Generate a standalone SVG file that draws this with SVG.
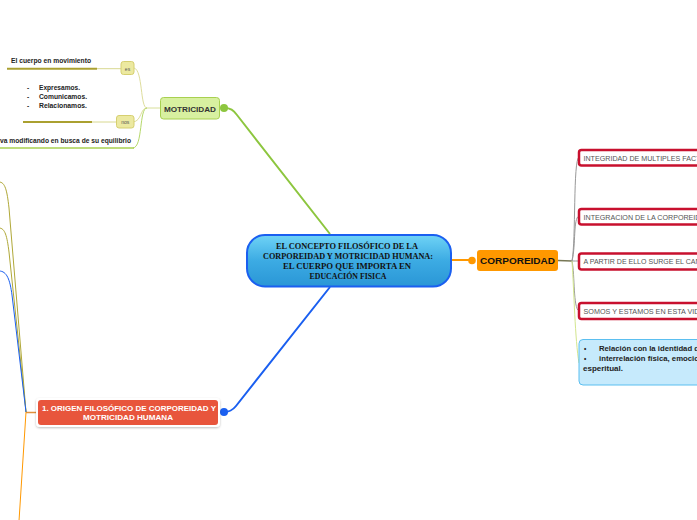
<svg xmlns="http://www.w3.org/2000/svg" width="697" height="520" viewBox="0 0 697 520">
<defs>
<linearGradient id="gc" x1="0" y1="0" x2="0" y2="1">
<stop offset="0" stop-color="#6fd3f6"/>
<stop offset="0.5" stop-color="#3cabe3"/>
<stop offset="1" stop-color="#2a96d6"/>
</linearGradient>
<filter id="sh" x="-10%" y="-20%" width="120%" height="150%">
<feDropShadow dx="0" dy="1" stdDeviation="1" flood-color="#000" flood-opacity="0.25"/>
</filter>
</defs>
<style>
.s{font-family:"Liberation Sans",Arial,sans-serif;font-weight:bold;font-size:6.5px;fill:#222}
.r{font-family:"Liberation Sans",Arial,sans-serif;font-size:7px;fill:#555}
.c{font-family:"Liberation Serif","Times New Roman",serif;font-weight:bold;font-size:8px;fill:#111}
.red{fill:#fff;stroke:#c8102e;stroke-width:2.5}
.ln{fill:none}
</style>
<rect width="697" height="520" fill="#fff"/>
<g id="connectors" class="ln">
<path d="M224,108 C231,108 233,110 237,115 L330,234" stroke="#8dc63f" stroke-width="2"/>
<path d="M330,287 L236,406 C232,411 229,412 224,412" stroke="#1a5ff0" stroke-width="2"/>
<path d="M451,260 L472,260" stroke="#ff9800" stroke-width="2"/>
<path d="M558,260.5 L572,261" stroke="#777755" stroke-width="1.5"/>
<path d="M572,261 C576,240 573,160 579,157" stroke="#999" stroke-width="1"/>
<path d="M572,261 C576,245 573,218 579,216" stroke="#999" stroke-width="1"/>
<path d="M572,261 C575,261 576,261 579,261" stroke="#999" stroke-width="1"/>
<path d="M572,261 C575,275 573,308 579,311" stroke="#999" stroke-width="1"/>
<path d="M572,261 C574,290 575,340 579,363" stroke="#d3e68e" stroke-width="1"/>
<path d="M160,108 L147,108" stroke="#d8df9a" stroke-width="1"/>
<path d="M147,108 C140,108 143,70 134,68" stroke="#dedd9c" stroke-width="1"/>
<path d="M147,108 C140,108 142,121 133,122" stroke="#dedd9c" stroke-width="1"/>
<path d="M147,108 C139,108 143,147 133,148" stroke="#b5d86a" stroke-width="1"/>
<path d="M7,68.7 L97,68.7" stroke="#aaa030" stroke-width="2"/>
<path d="M97,68.7 L121,68.7" stroke="#d8d890" stroke-width="1"/>
<path d="M23,122 L92,122" stroke="#aaa030" stroke-width="2"/>
<path d="M92,122 L117,122" stroke="#d8d890" stroke-width="1"/>
<path d="M0,148 L134,148" stroke="#a8d050" stroke-width="1.5"/>
<path d="M37,412.5 L26,412.5" stroke="#e0903c" stroke-width="1.5"/>
<path d="M-1,182 C5,182 7,190 9,208 L26,412" stroke="#b0a838" stroke-width="1"/>
<path d="M-1,228 C5,228 7,236 9,252 L26,412" stroke="#b0a838" stroke-width="1"/>
<path d="M-1,271 C7,271 10,280 12,295 L26,412" stroke="#1a5ff0" stroke-width="1"/>
<path d="M26,412 L19,521" stroke="#ff9800" stroke-width="1"/>
<circle cx="224" cy="108" r="4" fill="#8dc63f"/>
<circle cx="224" cy="412" r="4" fill="#1a5ff0"/>
<circle cx="472" cy="260.5" r="3.8" fill="#ff9800"/>
</g>
<g id="center">
<rect x="247" y="235" width="204" height="51.5" rx="18" fill="url(#gc)" stroke="#1a5ff0" stroke-width="2"/>
<text class="c" x="347" y="248.5" text-anchor="middle" textLength="142" lengthAdjust="spacingAndGlyphs">EL CONCEPTO FILOSÓFICO DE LA</text>
<text class="c" x="348" y="258.5" text-anchor="middle" textLength="170" lengthAdjust="spacingAndGlyphs">CORPOREIDAD Y MOTRICIDAD HUMANA:</text>
<text class="c" x="347" y="268.5" text-anchor="middle" textLength="128" lengthAdjust="spacingAndGlyphs">EL CUERPO QUE IMPORTA EN</text>
<text class="c" x="348" y="279" text-anchor="middle" textLength="77" lengthAdjust="spacingAndGlyphs">EDUCACIÓN FISICA</text>
</g>
<g id="motricidad">
<rect x="160.5" y="97.5" width="59" height="21.5" rx="3" fill="#d8f0a0" stroke="#a8d050" stroke-width="1"/>
<text x="190" y="111.5" text-anchor="middle" font-family="Liberation Sans,Arial,sans-serif" font-weight="bold" font-size="8" fill="#333" textLength="52" lengthAdjust="spacingAndGlyphs">MOTRICIDAD</text>
</g>
<g id="es">
<rect x="121" y="61.5" width="13" height="13" rx="2.5" fill="#ece9a0" stroke="#d6cf70" stroke-width="1"/>
<text x="127.5" y="70.5" text-anchor="middle" font-family="Liberation Sans,Arial,sans-serif" font-size="5" fill="#555">es</text>
</g>
<g id="nos">
<rect x="116.5" y="115.5" width="17.5" height="12.5" rx="2.5" fill="#ece9a0" stroke="#d6cf70" stroke-width="1"/>
<text x="125.3" y="124" text-anchor="middle" font-family="Liberation Sans,Arial,sans-serif" font-size="5" fill="#555">nos</text>
</g>
<g id="cuerpo-movimiento">
<text class="s" x="11" y="63" textLength="80" lengthAdjust="spacingAndGlyphs">El cuerpo en movimiento</text>
</g>
<g id="expresamos">
<text class="s" x="27" y="89.5">-</text>
<text class="s" x="39" y="89.5" textLength="41" lengthAdjust="spacingAndGlyphs">Expresamos.</text>
<text class="s" x="27" y="98.5">-</text>
<text class="s" x="39" y="98.5" textLength="48" lengthAdjust="spacingAndGlyphs">Comunicamos.</text>
<text class="s" x="27" y="107.5">-</text>
<text class="s" x="39" y="107.5" textLength="48" lengthAdjust="spacingAndGlyphs">Relacionamos.</text>
</g>
<g id="equilibrio">
<text class="s" x="0" y="143" textLength="131" lengthAdjust="spacingAndGlyphs">va modificando en busca de su equilibrio</text>
</g>
<g id="origen">
<rect x="36" y="398" width="184" height="29" rx="4" fill="#fff" filter="url(#sh)"/>
<rect x="38" y="400" width="180" height="25" rx="3" fill="#e8553c"/>
<text x="129" y="410.5" text-anchor="middle" font-family="Liberation Sans,Arial,sans-serif" font-weight="bold" font-size="6.8" fill="#fff" textLength="174" lengthAdjust="spacingAndGlyphs">1. ORIGEN FILOSÓFICO DE CORPOREIDAD Y</text>
<text x="128" y="419.5" text-anchor="middle" font-family="Liberation Sans,Arial,sans-serif" font-weight="bold" font-size="6.8" fill="#fff" textLength="90" lengthAdjust="spacingAndGlyphs">MOTRICIDAD HUMANA</text>
</g>
<g id="corporeidad">
<rect x="477" y="250" width="81" height="21" rx="3" fill="#ff9800"/>
<text x="517.5" y="264" text-anchor="middle" font-family="Liberation Sans,Arial,sans-serif" font-weight="bold" font-size="9" fill="#111" textLength="75" lengthAdjust="spacingAndGlyphs">CORPOREIDAD</text>
</g>
<g id="integridad">
<rect class="red" x="579" y="150" width="130" height="15.5" rx="2.5"/>
<text class="r" x="583.5" y="160.5" textLength="117" lengthAdjust="spacingAndGlyphs">INTEGRIDAD DE MULTIPLES FACT</text>
</g>
<g id="integracion">
<rect class="red" x="579" y="209" width="130" height="15.5" rx="2.5"/>
<text class="r" x="583.5" y="219.5" textLength="117" lengthAdjust="spacingAndGlyphs">INTEGRACION DE LA CORPOREID</text>
</g>
<g id="a-partir">
<rect class="red" x="579" y="253.5" width="130" height="16" rx="2.5"/>
<text class="r" x="583.5" y="264" textLength="117" lengthAdjust="spacingAndGlyphs">A PARTIR DE ELLO SURGE EL CAN</text>
</g>
<g id="somos">
<rect class="red" x="579" y="303" width="130" height="16" rx="2.5"/>
<text class="r" x="583.5" y="313.5" textLength="116" lengthAdjust="spacingAndGlyphs">SOMOS Y ESTAMOS EN ESTA VID</text>
</g>
<g id="relacion">
<rect x="579" y="339.5" width="130" height="45.5" rx="4" fill="#c6eafc" stroke="#5bbff0" stroke-width="1"/>
<text class="s" x="584" y="351">•</text>
<text class="s" x="599" y="351" textLength="100" lengthAdjust="spacingAndGlyphs">Relación con la identidad d</text>
<text class="s" x="584" y="361">•</text>
<text class="s" x="599" y="361" textLength="100" lengthAdjust="spacingAndGlyphs">interrelación física, emocio</text>
<text class="s" x="583" y="371" textLength="40" lengthAdjust="spacingAndGlyphs">esperitual.</text>
</g>
</svg>
